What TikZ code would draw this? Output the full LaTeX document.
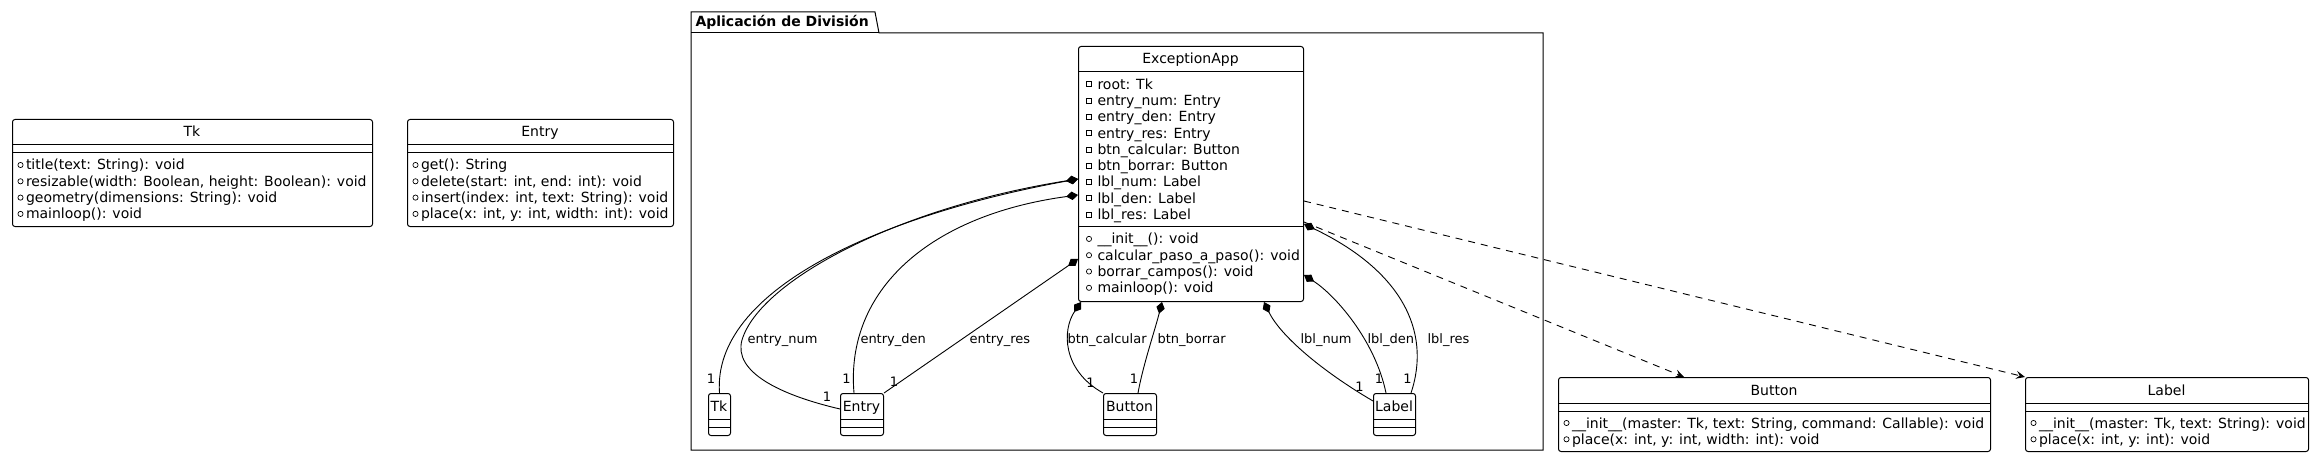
\documentclass[tikz,border=0pt]{standalone}
\usepackage{fontspec}
\setmainfont{DejaVu Sans}
\usetikzlibrary{arrows.meta}
\tikzset{
  umlbox/.style={draw,rounded corners=2.5pt,inner sep=0pt,anchor=north west},
  umltitle/.style={anchor=base,inner sep=0pt,font=\fontsize{14}{16}\selectfont},
  member/.style={anchor=base west,inner sep=0pt,font=\fontsize{14}{16}\selectfont},
  role/.style={anchor=base west,inner sep=0pt,font=\fontsize{13}{15}\selectfont},
  mult/.style={anchor=base,inner sep=0pt,font=\fontsize{13}{15}\selectfont},
  comp/.style={line width=0.9pt,{Diamond[length=12pt,width=8.5pt]}-},
  dep/.style={line width=0.9pt,dash pattern=on 7pt off 6pt,-{Stealth[length=9pt,width=8pt,inset=3.5pt]}},
}
\begin{document}
\begin{tikzpicture}[x=1pt,y=-1pt,line width=1pt]
\useasboundingbox(0,0)rectangle(2317,457);
\pgfmathsetmacro{\rowh}{16.3}
% package frame with its tab
\draw(691,33)--(691,12)--(875,12)--(879,33)--(1543,33)--(1543,450)--(691,450)--cycle;
\draw(691,33)--(879,33);
\node[anchor=base west,inner sep=0pt,font=\bfseries\fontsize{14}{16}\selectfont](pkg)at(695,27){Aplicación de División};
% Tk
\node[umlbox,minimum width=360pt,minimum height=107pt](tk)at(12,119){};
\node[umltitle](tk-t)at(192,137){Tk};
\foreach \yl in {145,153}{\draw(tk.west|-0,\yl)--(tk.east|-0,\yl);}
\foreach \i/\txt in {0/{title(text: String): void},1/{resizable(width: Boolean, height: Boolean): void},2/{geometry(dimensions: String): void},3/{mainloop(): void}}{
  \draw[line width=0.7pt](20.5,{165+\i*\rowh})circle(2.6pt);
  \node[member](tk-m\i)at(25.5,{170+\i*\rowh}){\txt};}
% Entry
\node[umlbox,minimum width=266pt,minimum height=107pt](entry)at(407,119){};
\node[umltitle](entry-t)at(540,137){Entry};
\foreach \yl in {145,153}{\draw(entry.west|-0,\yl)--(entry.east|-0,\yl);}
\foreach \i/\txt in {0/{get(): String},1/{delete(start: int, end: int): void},2/{insert(index: int, text: String): void},3/{place(x: int, y: int, width: int): void}}{
  \draw[line width=0.7pt](415.5,{165+\i*\rowh})circle(2.6pt);
  \node[member](entry-m\i)at(420.5,{170+\i*\rowh}){\txt};}
% ExceptionApp
\node[umlbox,minimum width=225pt,minimum height=255pt](app)at(1078,46){};
\node[umltitle](app-t)at(1190.5,64){ExceptionApp};
\foreach \yl in {72,226.7}{\draw(app.west|-0,\yl)--(app.east|-0,\yl);}
\foreach \i/\txt in {0/{root: Tk},1/{entry\_num: Entry},2/{entry\_den: Entry},3/{entry\_res: Entry},4/{btn\_calcular: Button},5/{btn\_borrar: Button},6/{lbl\_num: Label},7/{lbl\_den: Label},8/{lbl\_res: Label}}{
  \draw[line width=0.7pt](1086.5,{81.7+\i*\rowh})rectangle++(5,5);
  \node[member](app-a\i)at(1097,{89.2+\i*\rowh}){\txt};}
\foreach \i/\txt in {0/{\_\_init\_\_(): void},1/{calcular\_paso\_a\_paso(): void},2/{borrar\_campos(): void},3/{mainloop(): void}}{
  \draw[line width=0.7pt](1089,{238.9+\i*\rowh})circle(2.6pt);
  \node[member](app-m\i)at(1097,{243.9+\i*\rowh}){\txt};}
% small references inside the package
\foreach \nm/\xl/\bw/\txt in {tkref/708/22/Tk,entryref/840/43/Entry,btnref/1103/53/Button,lblref/1373/42/Label}{
  \node[umlbox,minimum width=\bw pt,minimum height=42pt](\nm)at(\xl,393){};
  \node[umltitle](\nm-t)at({\xl+\bw/2},411){\txt};
  \foreach \yl in {419,427}{\draw(\nm.west|-0,\yl)--(\nm.east|-0,\yl);}}
% Button and Label
\node[umlbox,minimum width=432pt,minimum height=74pt](btn)at(1558,377){};
\node[umltitle](btn-t)at(1774,395){Button};
\foreach \yl in {403,411}{\draw(btn.west|-0,\yl)--(btn.east|-0,\yl);}
\foreach \i/\txt in {0/{\_\_init\_\_(master: Tk, text: String, command: Callable): void},1/{place(x: int, y: int, width: int): void}}{
  \draw[line width=0.7pt](1566.5,{423+\i*\rowh})circle(2.6pt);
  \node[member](btn-m\i)at(1571.5,{428+\i*\rowh}){\txt};}
\node[umlbox,minimum width=283pt,minimum height=74pt](lbl)at(2025,377){};
\node[umltitle](lbl-t)at(2166.5,395){Label};
\foreach \yl in {403,411}{\draw(lbl.west|-0,\yl)--(lbl.east|-0,\yl);}
\foreach \i/\txt in {0/{\_\_init\_\_(master: Tk, text: String): void},1/{place(x: int, y: int): void}}{
  \draw[line width=0.7pt](2033.5,{423+\i*\rowh})circle(2.6pt);
  \node[member](lbl-m\i)at(2038.5,{428+\i*\rowh}){\txt};}
% compositions
\draw[comp](app.west|-0,179)..controls(880,215)and(712,290)..(tkref.north);
\draw[comp](app.west|-0,179)..controls(900,207)and(760,280)..(742,340)..controls(733,372)and(780,395)..(entryref.west|-0,409);
\draw[comp](app.west|-0,195)..controls(930,215)and(845,290)..([xshift=14pt]entryref.north west);
\draw[comp](app.west|-0,259)--(entryref.north east);
\draw[comp]([xshift=3pt]app.south west)..controls(1062,330)and(1062,370)..(btnref.north west);
\draw[comp](1162,0|-app.south)..controls(1155,330)and(1143,365)..([xshift=35pt]btnref.north west);
\draw[comp](1264,0|-app.south)..controls(1280,335)and(1320,370)..(lblref.west|-0,401);
\draw[comp](app.east|-0,275)..controls(1335,295)and(1375,340)..([xshift=13pt]lblref.north west);
\draw[comp](app.east|-0,224)..controls(1400,270)and(1432,330)..([xshift=38pt]lblref.north west);
% roles and multiplicities
\foreach \xl/\txt in {747/entry\_num,860/entry\_den,969/entry\_res,1067/btn\_calcular,1157/btn\_borrar,1300/lbl\_num,1367/lbl\_den,1427/lbl\_res}{
  \node[role](r-\xl)at(\xl,343.5){\txt};}
\foreach \xl/\yl in {711/383.7,827/401.7,846.5/383.7,894/386.7,1090.5/387,1134/383,1359.5/391.5,1379/383,1407.5/383}{
  \node[mult](m-\xl)at(\xl,\yl){1};}
% dependencies
\draw[dep](app.east|-0,201)--(lbl.north west);
\draw[dep](app.east|-0,222)--([xshift=126pt]btn.north west);
\end{tikzpicture}
\end{document}
